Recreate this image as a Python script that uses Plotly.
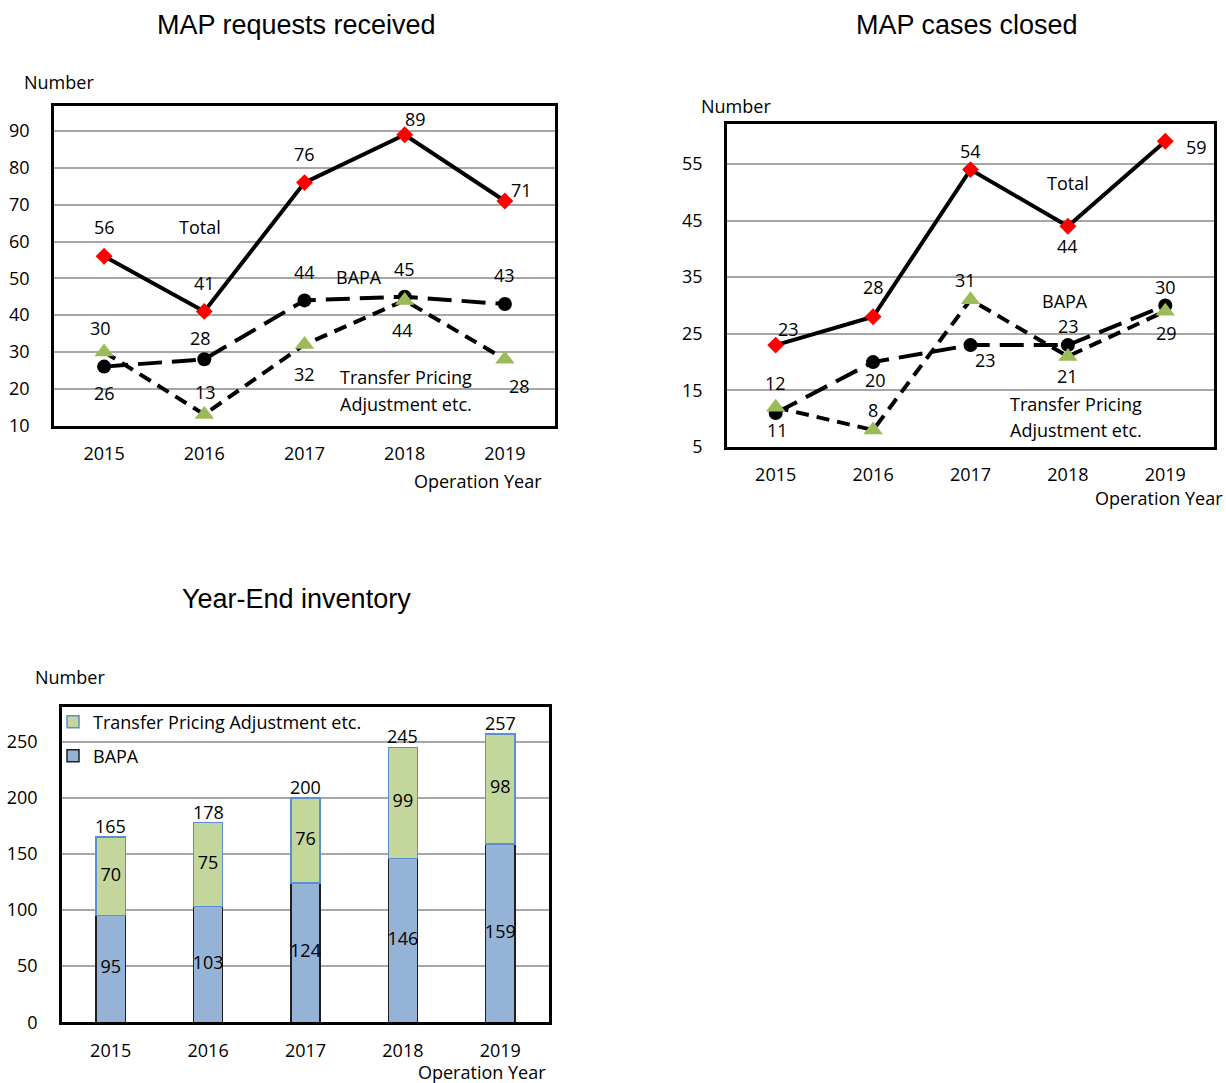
import plotly.graph_objects as go

# ---- data -------------------------------------------------------------
years = ["2015", "2016", "2017", "2018", "2019"]

# MAP requests received
req_total = [56, 41, 76, 89, 71]
req_bapa = [26, 28, 44, 45, 43]
req_tpa = [30, 13, 32, 44, 28]

# MAP cases closed
closed_total = [23, 28, 54, 44, 59]
closed_bapa = [11, 20, 23, 23, 30]
closed_tpa = [12, 8, 31, 21, 29]

# Year-end inventory
inv_bapa = [95, 103, 124, 146, 159]
inv_tpa = [70, 75, 76, 99, 98]

# ---- styling ----------------------------------------------------------
FONT = "Open Sans, Noto Sans, sans-serif"
TITLE_FONT = "Liberation Sans, Arial, sans-serif"
FS = 18
RED = "#FF0000"
GREEN = "#9BBB59"
GRID = "#A6A6A6"

# value-label offsets (xshift, yshift) in pixels for each point
req_total_off = [(0, 29), (0, 28), (0, 29), (11, 16), (17, 11)]
req_bapa_off = [(0, -26), (-4, 21), (0, 28), (0, 28), (0, 29)]
req_tpa_off = [(-4, 24), (1, 22), (0, -29), (-2, -30), (15, -27)]

closed_total_off = [(13, 16), (0, 30), (0, 19), (0, -20), (31, -6)]
closed_bapa_off = [(2, -17), (2, -18), (15, -15), (1, 19), (0, 18)]
closed_tpa_off = [(0, 24), (0, 20), (-5, 20), (0, -20), (1, -22)]

fig = go.Figure()
annotations = []


def add_lines(total, bapa, tpa, xa, ya):
    fig.add_trace(go.Scatter(
        x=years, y=total, mode="lines+markers", name="Total", showlegend=False,
        line=dict(color="black", width=4),
        marker=dict(symbol="diamond", size=13, color=RED),
        xaxis=xa, yaxis=ya))
    fig.add_trace(go.Scatter(
        x=years, y=bapa, mode="lines+markers", name="BAPA", showlegend=False,
        line=dict(color="black", width=4, dash="24px,10px"),
        marker=dict(symbol="circle", size=14, color="black"),
        xaxis=xa, yaxis=ya))
    fig.add_trace(go.Scatter(
        x=years, y=tpa, mode="lines+markers", name="Transfer Pricing Adjustment etc.",
        showlegend=False,
        line=dict(color="black", width=4, dash="13px,8px"),
        marker=dict(symbol="triangle-up", size=17, color=GREEN),
        xaxis=xa, yaxis=ya))


def value_labels(values, offsets, xref, yref):
    for i, (v, (dx, dy)) in enumerate(zip(values, offsets)):
        annotations.append(dict(
            x=i, y=v, xref=xref, yref=yref, text=str(v), showarrow=False,
            xshift=dx, yshift=dy, font=dict(family=FONT, size=FS, color="black")))


def text_note(text, x, y, xref, yref, xanchor="center", size=FS, family=FONT):
    annotations.append(dict(
        x=x, y=y, xref=xref, yref=yref, text=text, showarrow=False,
        xanchor=xanchor, yanchor="middle", borderpad=0,
        font=dict(family=family, size=size, color="black")))


# ---- chart 1: requests received --------------------------------------
add_lines(req_total, req_bapa, req_tpa, "x", "y")
value_labels(req_total, req_total_off, "x", "y")
value_labels(req_bapa, req_bapa_off, "x", "y")
value_labels(req_tpa, req_tpa_off, "x", "y")
text_note("Total", 0.96, 63.9, "x", "y")
text_note("BAPA", 2.545, 50.3, "x", "y")
text_note("Transfer Pricing", 2.345, 23.3, "x", "y", xanchor="left")
text_note("Adjustment etc.", 2.345, 15.9, "x", "y", xanchor="left")

# ---- chart 2: cases closed -------------------------------------------
add_lines(closed_total, closed_bapa, closed_tpa, "x2", "y2")
value_labels(closed_total, closed_total_off, "x2", "y2")
value_labels(closed_bapa, closed_bapa_off, "x2", "y2")
value_labels(closed_tpa, closed_tpa_off, "x2", "y2")
text_note("Total", 3.0, 51.6, "x2", "y2")
text_note("BAPA", 2.97, 30.8, "x2", "y2")
text_note("Transfer Pricing", 3.08, 12.6, "x2", "y2")
text_note("Adjustment etc.", 3.08, 8.0, "x2", "y2")

# ---- chart 3: year-end inventory (stacked bars) ----------------------
fig.add_trace(go.Bar(
    x=years, y=inv_bapa, name="BAPA", width=0.3,
    marker=dict(color="#95B3D7", line=dict(color="#1F1F1F", width=1.5)),
    xaxis="x3", yaxis="y3", legend="legend2"))
fig.add_trace(go.Bar(
    x=years, y=inv_tpa, name="Transfer Pricing Adjustment etc.", width=0.3,
    marker=dict(color="#C3D69B", line=dict(color="#5B8FD0", width=1.5)),
    xaxis="x3", yaxis="y3", legend="legend"))

# segment values in the middle of each segment
fig.add_trace(go.Scatter(
    x=years, y=[b / 2 for b in inv_bapa], mode="text",
    text=[str(b) for b in inv_bapa], textposition="middle center",
    textfont=dict(family=FONT, size=FS, color="black"),
    showlegend=False, hoverinfo="skip", xaxis="x3", yaxis="y3"))
fig.add_trace(go.Scatter(
    x=years, y=[b + t / 2 for b, t in zip(inv_bapa, inv_tpa)], mode="text",
    text=[str(t) for t in inv_tpa], textposition="middle center",
    textfont=dict(family=FONT, size=FS, color="black"),
    showlegend=False, hoverinfo="skip", xaxis="x3", yaxis="y3"))

# stack totals above each bar
for i, (b, t) in enumerate(zip(inv_bapa, inv_tpa)):
    annotations.append(dict(
        x=i, y=b + t, xref="x3", yref="y3", text=str(b + t), showarrow=False,
        yanchor="bottom", yshift=-3,
        font=dict(family=FONT, size=FS, color="black")))

# ---- titles and axis captions ----------------------------------------
W, H = 1226, 1083


def px(x, y):
    return x / W, 1 - y / H


for text, (cx, cy) in [("MAP requests received", (296, 25)),
                       ("MAP cases closed", (967, 25)),
                       ("Year-End inventory", (296, 599))]:
    xp, yp = px(cx, cy)
    text_note(text, xp, yp, "paper", "paper", size=27, family=TITLE_FONT)

for (lx, ly) in [(23, 82), (700, 106), (34, 677)]:
    xp, yp = px(lx, ly)
    text_note("Number", xp, yp, "paper", "paper", xanchor="left")

for (rx, ry) in [(543, 481), (1224, 498), (547, 1072)]:
    xp, yp = px(rx, ry)
    text_note("Operation Year", xp, yp, "paper", "paper", xanchor="right")

# ---- axes ---------------------------------------------------------------


def xaxis(domain, anchor):
    return dict(domain=domain, anchor=anchor, type="category", range=[-0.5, 4.5],
                showgrid=False, showline=True, linecolor="black", linewidth=2.5,
                mirror=True, ticks="", ticklabelstandoff=10, zeroline=False,
                automargin=False,
                tickfont=dict(family=FONT, size=FS, color="black"))


def yaxis(domain, anchor, rng, tick0, dtick):
    return dict(domain=domain, anchor=anchor, range=rng, tick0=tick0, dtick=dtick,
                showgrid=True, gridcolor=GRID, gridwidth=2, zeroline=False,
                showline=True, linecolor="black", linewidth=2.5, mirror=True,
                ticks="", ticklabelstandoff=18, automargin=False,
                tickfont=dict(family=FONT, size=FS, color="black"))


fig.update_layout(
    width=W, height=H,
    autosize=False,
    margin=dict(l=0, r=0, t=0, b=0, pad=0, autoexpand=False),
    paper_bgcolor="white", plot_bgcolor="white",
    barmode="stack",
    xaxis=xaxis([54 / W, 555 / W], "y"),
    yaxis=yaxis([1 - 425.5 / H, 1 - 105.7 / H], "x", [10, 96.9], 10, 10),
    xaxis2=xaxis([727 / W, 1214 / W], "y2"),
    yaxis2=yaxis([1 - 447 / H, 1 - 124.3 / H], "x2", [5, 62.0], 5, 10),
    xaxis3=xaxis([62 / W, 549 / W], "y3"),
    yaxis3=yaxis([1 - 1022.3 / H, 1 - 707 / H], "x3", [0, 280.9], 0, 50),
    legend=dict(x=53 / W, y=1 - 722 / H, xanchor="left", yanchor="middle",
                bgcolor="rgba(0,0,0,0)", font=dict(family=FONT, size=FS, color="black")),
    legend2=dict(x=53 / W, y=1 - 756 / H, xanchor="left", yanchor="middle",
                 bgcolor="rgba(0,0,0,0)", font=dict(family=FONT, size=FS, color="black")),
    annotations=annotations,
)

fig.write_html("out.html")
